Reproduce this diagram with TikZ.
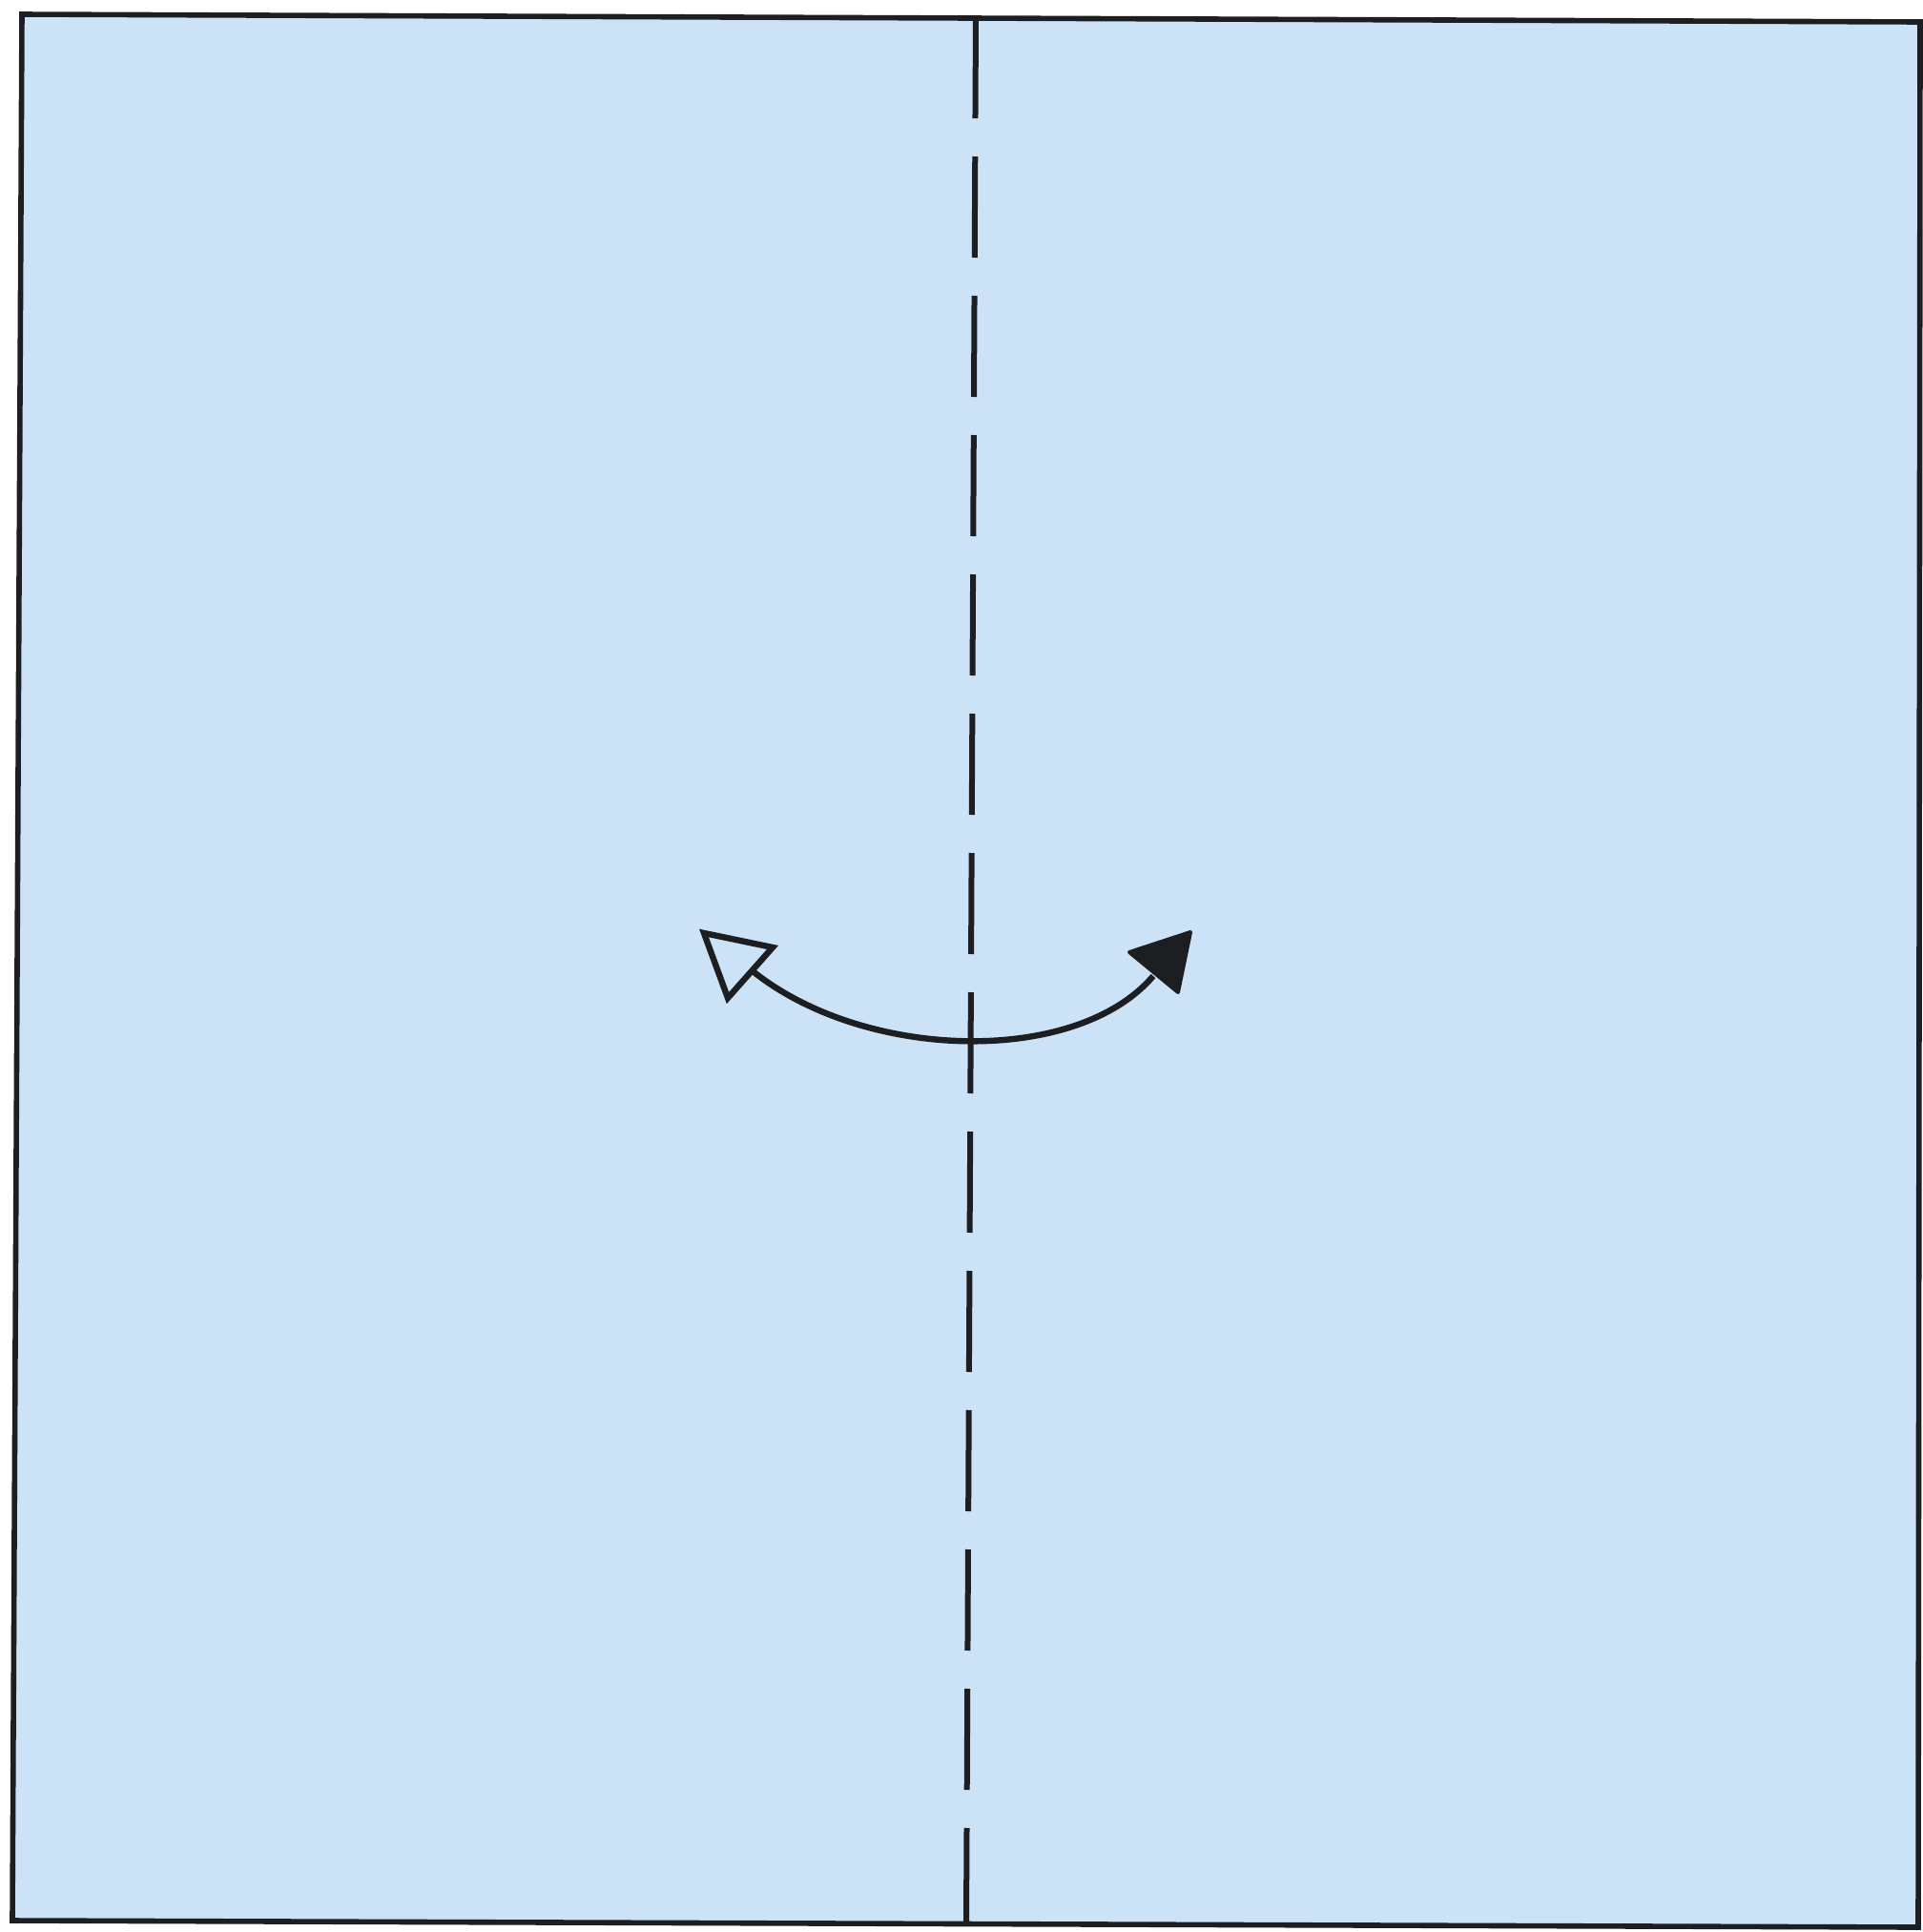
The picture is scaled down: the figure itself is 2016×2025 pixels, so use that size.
\documentclass[tikz,border=0pt]{standalone}
\usepackage{tikz}
\definecolor{paper}{RGB}{204,226,246}
\definecolor{ink}{RGB}{28,30,34}
\tikzset{
  edge/.style={draw=ink, line width=2.8pt, line join=miter},
  foldline/.style={draw=ink, line width=3pt, dash pattern=on 53pt off 20pt},
  arrowline/.style={draw=ink, line width=3.2pt},
  openhead/.style={draw=ink, fill=paper, line width=3.2pt, line join=miter},
  fullhead/.style={draw=ink, fill=ink, line width=2pt, line join=round}
}
\begin{document}
\begin{tikzpicture}[x=0.5pt,y=-0.5pt]
\useasboundingbox (0,0) rectangle (2016,2025);
\fill[white] (0,0) rectangle (2016,2025);
% paper square (slightly skewed as in the scan)
\coordinate (tl) at (23,15);
\coordinate (tr) at (2013,23);
\coordinate (br) at (2011,2020);
\coordinate (bl) at (13,2013);
\path[edge, fill=paper] (tl) -- (tr) -- (br) -- (bl) -- cycle;
% valley fold line
\coordinate (ft) at (1023,18);
\coordinate (fb) at (1013,2018);
\path[foldline] (ft) -- (fb);
% curved arrow
\coordinate (a0) at (788,1017);
\coordinate (a1) at (1209,1023);
\path[arrowline] (a0) .. controls (905,1112) and (1128,1118) .. (a1);
% open arrowhead (left)
\path[openhead] (738,978) -- (810,993) -- (763,1046) -- cycle;
% filled arrowhead (right)
\path[fullhead] (1248,977) -- (1184,998) -- (1235,1040) -- cycle;
\end{tikzpicture}
\end{document}
